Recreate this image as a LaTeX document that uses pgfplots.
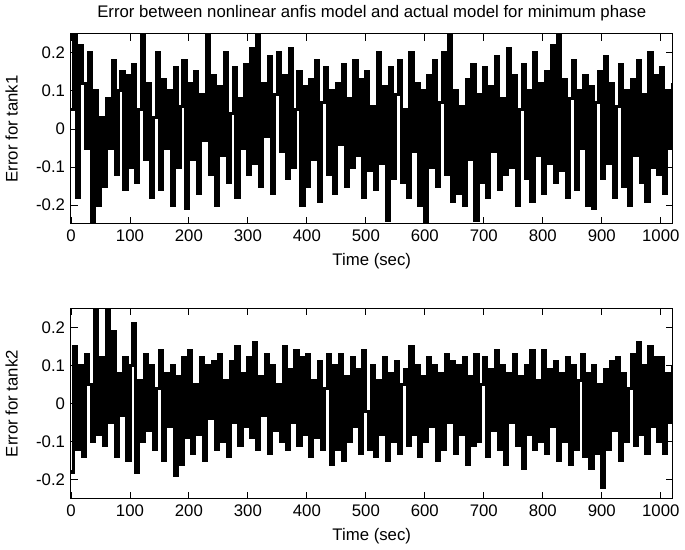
\documentclass[border=0pt]{standalone}
\usepackage{fontspec}
\setmainfont{Liberation Sans}
\usepackage{pgfplots}
\pgfplotsset{compat=1.18}
\usepackage{pgfplotstable}

% tank1 error, sampled every 5 s
\pgfplotstableread[row sep=\\]{
x y\\
0 0.05\\ 5 0.27\\ 10 -0.18\\ 15 0.22\\ 20 0.12\\ 25 -0.05\\ 30 0.2\\ 35 -0.27\\ 40 0.1\\ 45 -0.2\\
50 0.03\\ 55 -0.15\\ 60 0.08\\ 65 -0.05\\ 70 0.18\\ 75 -0.12\\ 80 0.1\\ 85 0.15\\ 90 -0.16\\ 95 0.14\\
100 -0.1\\ 105 0.17\\ 110 -0.14\\ 115 0.05\\ 120 0.26\\ 125 -0.08\\ 130 0.12\\ 135 -0.18\\ 140 0.03\\ 145 0.2\\
150 -0.16\\ 155 0.13\\ 160 -0.05\\ 165 0.1\\ 170 -0.2\\ 175 0.16\\ 180 -0.1\\ 185 0.06\\ 190 0.18\\ 195 -0.21\\
200 0.12\\ 205 -0.08\\ 210 0.15\\ 215 -0.17\\ 220 0.09\\ 225 -0.03\\ 230 0.26\\ 235 -0.12\\ 240 0.14\\ 245 -0.2\\
250 0.11\\ 255 -0.07\\ 260 0.2\\ 265 -0.14\\ 270 0.04\\ 275 0.16\\ 280 -0.18\\ 285 0.08\\ 290 -0.05\\ 295 0.17\\
300 -0.12\\ 305 0.21\\ 310 -0.09\\ 315 0.26\\ 320 -0.15\\ 325 0.12\\ 330 -0.02\\ 335 0.19\\ 340 -0.17\\ 345 0.09\\
350 0.2\\ 355 -0.06\\ 360 0.14\\ 365 -0.13\\ 370 0.21\\ 375 -0.1\\ 380 0.05\\ 385 0.15\\ 390 -0.2\\ 395 0.11\\
400 -0.15\\ 405 0.13\\ 410 -0.08\\ 415 0.18\\ 420 -0.19\\ 425 0.07\\ 430 0.16\\ 435 -0.12\\ 440 0.1\\ 445 -0.17\\
450 0.12\\ 455 -0.04\\ 460 0.17\\ 465 -0.15\\ 470 0.08\\ 475 -0.1\\ 480 0.18\\ 485 -0.07\\ 490 0.13\\ 495 -0.18\\
500 0.15\\ 505 -0.11\\ 510 0.06\\ 515 -0.16\\ 520 0.2\\ 525 -0.09\\ 530 0.11\\ 535 -0.24\\ 540 0.16\\ 545 -0.13\\
550 0.09\\ 555 0.18\\ 560 -0.14\\ 565 0.05\\ 570 -0.18\\ 575 0.2\\ 580 -0.06\\ 585 0.12\\ 590 -0.2\\ 595 0.1\\
600 -0.27\\ 605 0.14\\ 610 -0.1\\ 615 0.18\\ 620 -0.15\\ 625 0.07\\ 630 0.2\\ 635 -0.12\\ 640 0.27\\ 645 -0.19\\
650 0.1\\ 655 -0.17\\ 660 0.06\\ 665 -0.2\\ 670 0.13\\ 675 -0.08\\ 680 0.17\\ 685 -0.24\\ 690 0.09\\ 695 -0.14\\
700 0.16\\ 705 -0.18\\ 710 0.11\\ 715 -0.06\\ 720 0.19\\ 725 -0.16\\ 730 0.08\\ 735 -0.12\\ 740 0.21\\ 745 -0.1\\
750 0.14\\ 755 -0.2\\ 760 0.05\\ 765 0.17\\ 770 -0.13\\ 775 0.1\\ 780 -0.19\\ 785 0.2\\ 790 -0.07\\ 795 0.12\\
800 -0.17\\ 805 0.15\\ 810 -0.09\\ 815 0.22\\ 820 -0.14\\ 825 0.27\\ 830 -0.11\\ 835 0.13\\ 840 -0.18\\ 845 0.08\\
850 0.18\\ 855 -0.16\\ 860 0.1\\ 865 -0.05\\ 870 0.14\\ 875 -0.2\\ 880 0.11\\ 885 -0.21\\ 890 0.07\\ 895 0.15\\
900 -0.13\\ 905 0.19\\ 910 -0.09\\ 915 0.12\\ 920 -0.18\\ 925 0.06\\ 930 0.17\\ 935 -0.15\\ 940 0.1\\ 945 -0.2\\
950 0.13\\ 955 -0.07\\ 960 0.18\\ 965 -0.14\\ 970 0.09\\ 975 -0.19\\ 980 0.2\\ 985 -0.1\\ 990 0.14\\ 995 -0.12\\
1000 0.16\\ 1005 -0.17\\ 1010 0.1\\ 1015 -0.05\\ 1020 0.12\\
}\tankone

% tank2 error
\pgfplotstableread[row sep=\\]{
x y\\
0 -0.18\\ 5 0.15\\ 10 -0.12\\ 15 0.1\\ 20 -0.14\\ 25 0.13\\ 30 0.05\\ 35 -0.1\\ 40 0.27\\ 45 -0.08\\
50 0.12\\ 55 -0.11\\ 60 0.27\\ 65 -0.05\\ 70 0.19\\ 75 -0.14\\ 80 0.08\\ 85 -0.03\\ 90 0.12\\ 95 -0.15\\
100 0.1\\ 105 0.21\\ 110 -0.18\\ 115 0.06\\ 120 -0.1\\ 125 0.13\\ 130 -0.07\\ 135 0.1\\ 140 -0.12\\ 145 0.04\\
150 0.14\\ 155 -0.15\\ 160 0.08\\ 165 -0.06\\ 170 0.1\\ 175 -0.19\\ 180 0.07\\ 185 -0.16\\ 190 0.12\\ 195 -0.09\\
200 0.14\\ 205 -0.13\\ 210 0.05\\ 215 -0.08\\ 220 0.12\\ 225 -0.15\\ 230 0.1\\ 235 -0.04\\ 240 0.11\\ 245 -0.12\\
250 0.13\\ 255 -0.1\\ 260 0.06\\ 265 -0.14\\ 270 0.11\\ 275 -0.05\\ 280 0.15\\ 285 -0.11\\ 290 0.08\\ 295 -0.06\\
300 0.12\\ 305 -0.09\\ 310 0.16\\ 315 -0.12\\ 320 0.07\\ 325 -0.03\\ 330 0.13\\ 335 -0.13\\ 340 0.1\\ 345 -0.07\\
350 0.05\\ 355 -0.1\\ 360 0.15\\ 365 -0.12\\ 370 0.09\\ 375 -0.05\\ 380 0.14\\ 385 -0.11\\ 390 0.12\\ 395 -0.08\\
400 0.13\\ 405 -0.14\\ 410 0.06\\ 415 -0.09\\ 420 0.11\\ 425 -0.12\\ 430 0.04\\ 435 0.13\\ 440 -0.16\\ 445 0.1\\
450 -0.12\\ 455 0.13\\ 460 -0.15\\ 465 0.07\\ 470 -0.1\\ 475 0.12\\ 480 -0.06\\ 485 0.09\\ 490 -0.13\\ 495 0.14\\
500 -0.02\\ 505 -0.12\\ 510 0.1\\ 515 -0.14\\ 520 0.06\\ 525 -0.08\\ 530 0.12\\ 535 -0.15\\ 540 0.08\\ 545 -0.1\\
550 0.11\\ 555 -0.13\\ 560 0.05\\ 565 0.09\\ 570 -0.11\\ 575 0.15\\ 580 -0.08\\ 585 0.1\\ 590 -0.14\\ 595 0.07\\
600 -0.1\\ 605 0.12\\ 610 -0.06\\ 615 0.1\\ 620 -0.15\\ 625 0.08\\ 630 -0.12\\ 635 0.13\\ 640 -0.05\\ 645 0.11\\
650 -0.13\\ 655 0.1\\ 660 -0.08\\ 665 0.12\\ 670 -0.16\\ 675 0.07\\ 680 -0.11\\ 685 0.13\\ 690 -0.1\\ 695 0.05\\
700 0.12\\ 705 -0.14\\ 710 0.09\\ 715 -0.07\\ 720 0.14\\ 725 -0.12\\ 730 0.1\\ 735 -0.16\\ 740 0.08\\ 745 -0.05\\
750 0.13\\ 755 -0.11\\ 760 0.07\\ 765 -0.17\\ 770 0.1\\ 775 -0.08\\ 780 0.14\\ 785 -0.12\\ 790 0.06\\ 795 -0.1\\
800 0.14\\ 805 -0.13\\ 810 0.09\\ 815 -0.06\\ 820 0.11\\ 825 -0.15\\ 830 0.08\\ 835 -0.1\\ 840 0.12\\ 845 -0.16\\
850 0.1\\ 855 -0.12\\ 860 0.06\\ 865 0.13\\ 870 -0.14\\ 875 0.08\\ 880 -0.17\\ 885 0.1\\ 890 -0.13\\ 895 0.05\\
900 -0.22\\ 905 0.09\\ 910 -0.12\\ 915 0.11\\ 920 -0.07\\ 925 0.12\\ 930 -0.15\\ 935 0.08\\ 940 -0.1\\ 945 0.04\\
950 0.13\\ 955 -0.11\\ 960 0.16\\ 965 -0.08\\ 970 0.1\\ 975 -0.13\\ 980 0.15\\ 985 -0.06\\ 990 0.12\\ 995 -0.1\\
1000 0.12\\ 1005 -0.13\\ 1010 0.08\\ 1015 -0.05\\ 1020 0.1\\
}\tanktwo

\pgfplotsset{
  matlab/.style={
    scale only axis,
    width=358.8pt, height=113.4pt,
    xmin=0, xmax=1020, ymin=-0.25, ymax=0.25,
    xtick={0,100,...,1000},
    ytick={-0.2,-0.1,0,0.1,0.2},
    yticklabels={-0.2,-0.1,0,0.1,0.2},
    tick align=inside,
    major tick length=4pt,
    axis line style={line width=0.6pt},
    every tick/.style={black, line width=0.5pt},
    tick label style={font=\fontsize{10}{12}\selectfont},
    label style={font=\fontsize{10}{12}\selectfont},
    /pgf/number format/assume math mode=true,
    /pgf/number format/1000 sep={},
    xlabel={Time (sec)},
    ylabel style={yshift=4pt},
    clip=true,
  }
}

\begin{document}
\begin{tikzpicture}
\begin{axis}[matlab, name=top,
    ylabel={Error for tank1},
    title={Error between nonlinear anfis model and actual model for minimum phase},
    title style={font=\fontsize{10}{12}\selectfont, yshift=-2pt}]
  \addplot[black, line width=1.9pt, const plot] table[x=x, y=y] {\tankone};
\end{axis}
\begin{axis}[matlab, at={(0,-163.8pt)},
    ylabel={Error for tank2}]
  \addplot[black, line width=1.9pt, const plot] table[x=x, y=y] {\tanktwo};
\end{axis}
\end{tikzpicture}
\end{document}
